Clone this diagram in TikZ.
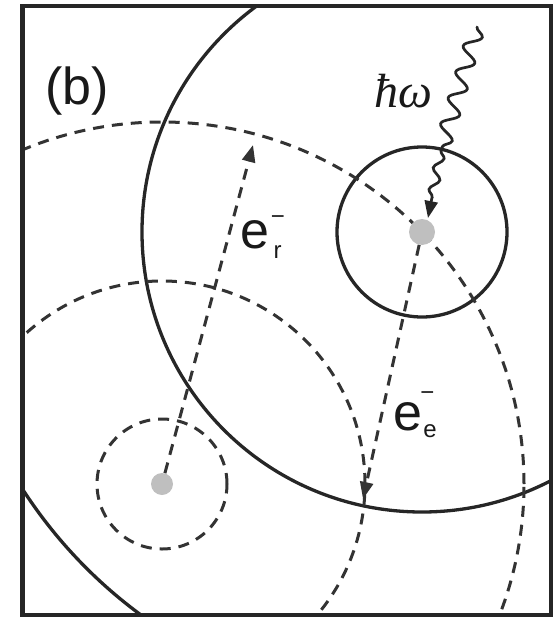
\documentclass[tikz,border=0pt]{standalone}
\usepackage{fontspec}
\setmainfont{Liberation Sans}
\newfontfamily\serifit{Liberation Serif}
\usetikzlibrary{arrows.meta,decorations.pathmorphing}
\begin{document}
\begin{tikzpicture}[x=1pt,y=-1pt,
  solidline/.style={draw=black!85, line width=3.3pt},
  dashline/.style={draw=black!80, line width=3pt, dash pattern=on 11pt off 8pt},
  atom/.style={circle, fill=gray!50, inner sep=0pt, minimum size=#1},
  tipstyle/.style={-{Triangle[length=17pt,width=13pt]}},
  photon/.style={draw=black!85, line width=2.7pt, line cap=round, decorate},
  biglab/.style={font=\fontsize{52}{60}\selectfont, inner sep=0pt, text=black!90},
  smalllab/.style={font=\fontsize{24}{28}\selectfont, inner sep=0pt, text=black!90},
]
\useasboundingbox (0,0) rectangle (555,618);
\coordinate (Ac) at (162,484);
\coordinate (Bc) at (422,232);
\begin{scope}
  \clip (22.5,6) rectangle (551,615);
  % solid circles around the right atom
  \draw[solidline] (Bc) circle[radius=85pt];
  \draw[solidline] (Bc) circle[radius=280pt];
  \draw[solidline] (Bc) circle[radius=475pt];
  % dashed circles around the left atom
  \draw[dashline] (Ac) circle[radius=65pt];
  \draw[dashline] (Ac) circle[radius=203pt];
  \draw[dashline] (Ac) circle[radius=362pt];
\end{scope}
% atoms
\node[atom=22pt] (A) at (Ac) {};
\node[atom=26pt] (B) at (Bc) {};
% electron arrows
\coordinate (rtip) at (253,145);
\coordinate (etip) at (363,499);
\draw[dashline, tipstyle] (A) -- (rtip);
\draw[dashline, tipstyle] (B) -- (etip);
% photon
\coordinate (ph0) at (477,27);
\coordinate (ph1) at (441,151);
\coordinate (ph2) at (428,218);
\draw[photon, decoration={snake, segment length=27pt, amplitude=8pt}] (ph0) -- (ph1);
\draw[photon, tipstyle, decoration={snake, segment length=22pt, amplitude=4.5pt, post length=16pt}] (ph1) -- (ph2);
% labels
\node[biglab, anchor=base] (blab) at (77,104) {(b)};
\node[font=\serifit\itshape\fontsize{48}{56}\selectfont, anchor=base, inner sep=0pt, text=black!90] (hw) at (403,107) {ħω};
\node[biglab, anchor=base] (er) at (255,248) {e};
\node[smalllab, anchor=base west] (err) at (273.5,258) {r};
\node[smalllab, anchor=base] (erm) at (278,224) {−};
\node[biglab, anchor=base] (ee) at (407.5,430) {e};
\node[smalllab, anchor=base] (eem) at (427.5,400) {−};
\node[smalllab, anchor=base] (ees) at (430,437) {e};
% frame
\draw[line width=4.5pt, draw=black!85] (22.5,6) rectangle (551,615);
\end{tikzpicture}
\end{document}
